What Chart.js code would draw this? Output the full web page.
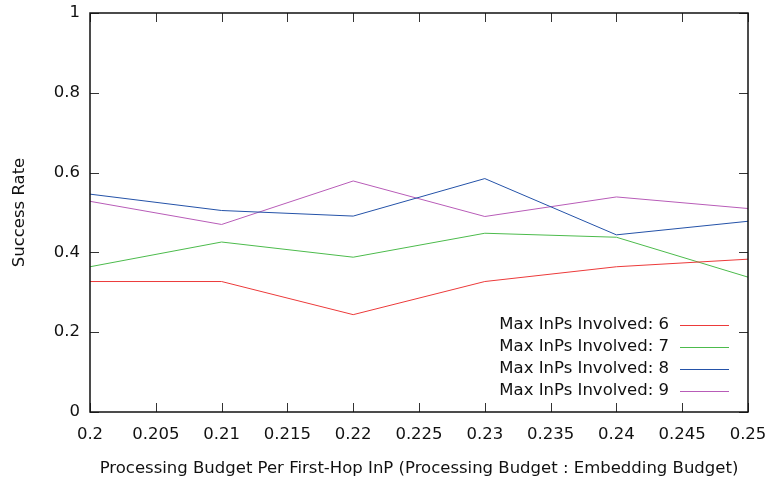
<!DOCTYPE html>
<html>
<head>
<meta charset="utf-8">
<script src="https://cdn.jsdelivr.net/npm/chart.js@4"></script>
<style>
	body { margin: 0; background: #fff; }
	#chart { display: block; }
</style>
</head>
<body>
<canvas id="chart" width="770" height="484"></canvas>
<script>
const budgets = [0.2, 0.21, 0.22, 0.23, 0.24, 0.25];

const inps6 = [0.327, 0.327, 0.244, 0.327, 0.364, 0.383];
const inps7 = [0.364, 0.426, 0.388, 0.448, 0.438, 0.338];
const inps8 = [0.546, 0.505, 0.491, 0.585, 0.444, 0.478];
const inps9 = [0.528, 0.470, 0.579, 0.490, 0.539, 0.510];

const seriesLabels = [
	"Max InPs Involved: 6",
	"Max InPs Involved: 7",
	"Max InPs Involved: 8",
	"Max InPs Involved: 9",
];
const seriesColors = ["#ec3a3a", "#4cbb4c", "#2452a8", "#b85cb8"];

const xTickLabels = ["0.2", "0.205", "0.21", "0.215", "0.22", "0.225", "0.23", "0.235", "0.24", "0.245", "0.25"];
const yTickLabels = ["0", "0.2", "0.4", "0.6", "0.8", "1"];

const fontFamily = "'DejaVu Sans', Verdana, sans-serif";
const fontSize = 16.5;

function toPoints(values) {
	return values.map(function (v, i) {
		return { x: budgets[i], y: v };
	});
}

const allSeries = [inps6, inps7, inps8, inps9];

// gnuplot-like frame with inward ticks on every side
const framePlugin = {
	id: "frame",
	afterDatasetsDraw(chart) {
		const ctx = chart.ctx;
		const a = chart.chartArea;
		const xs = chart.scales.x;
		const ys = chart.scales.y;
		const len = 9;
		ctx.save();
		ctx.strokeStyle = "#333";
		ctx.lineWidth = 1;
		ctx.beginPath();
		xs.ticks.forEach(function (t) {
			const px = Math.round(xs.getPixelForValue(t.value)) + 0.5;
			ctx.moveTo(px, a.bottom);
			ctx.lineTo(px, a.bottom - len);
			ctx.moveTo(px, a.top);
			ctx.lineTo(px, a.top + len);
		});
		ys.ticks.forEach(function (t) {
			const py = Math.round(ys.getPixelForValue(t.value)) + 0.5;
			ctx.moveTo(a.left, py);
			ctx.lineTo(a.left + len, py);
			ctx.moveTo(a.right, py);
			ctx.lineTo(a.right - len, py);
		});
		ctx.stroke();
		ctx.strokeStyle = "#111";
		ctx.lineWidth = 1.5;
		ctx.strokeRect(a.left, a.top, a.right - a.left, a.bottom - a.top);
		ctx.restore();
	},
};

// key drawn inside the bottom right corner
const keyPlugin = {
	id: "key",
	afterDraw(chart) {
		const ctx = chart.ctx;
		const textRight = 669;
		const lineStart = 680;
		const lineEnd = 729;
		const firstRow = 325;
		const rowGap = 22;
		ctx.save();
		ctx.font = fontSize + "px " + fontFamily;
		ctx.textAlign = "right";
		ctx.textBaseline = "middle";
		chart.data.datasets.forEach(function (ds, i) {
			const y = firstRow + i * rowGap;
			ctx.fillStyle = "#111";
			ctx.fillText(ds.label, textRight, y);
			ctx.strokeStyle = ds.borderColor;
			ctx.lineWidth = 1;
			ctx.beginPath();
			ctx.moveTo(lineStart, y + 0.5);
			ctx.lineTo(lineEnd, y + 0.5);
			ctx.stroke();
		});
		ctx.restore();
	},
};

const config = {
	type: "line",
	data: {
		datasets: allSeries.map(function (values, i) {
			return {
				label: seriesLabels[i],
				data: toPoints(values),
				borderColor: seriesColors[i],
				backgroundColor: seriesColors[i],
				borderWidth: 1,
				pointRadius: 0,
				tension: 0,
				fill: false,
			};
		}),
	},
	options: {
		responsive: false,
		animation: false,
		layout: {
			padding: { left: 0, right: 22, top: 13, bottom: 0 },
		},
		plugins: {
			legend: { display: false },
			tooltip: { enabled: false },
		},
		scales: {
			x: {
				type: "linear",
				min: 0.2,
				max: 0.25,
				grid: { display: false, drawTicks: false },
				border: { display: false },
				ticks: {
					stepSize: 0.005,
					padding: 13,
					color: "#111",
					maxRotation: 0,
					autoSkip: false,
					font: { family: fontFamily, size: fontSize },
					callback: function (value, index) {
						return xTickLabels[index];
					},
				},
				title: {
					display: true,
					text: "Processing Budget Per First-Hop InP (Processing Budget : Embedding Budget)",
					color: "#111",
					font: { family: fontFamily, size: fontSize },
					padding: { top: 4, bottom: 5 },
				},
				afterFit: function (scale) {
					scale.height = 72;
					scale.paddingLeft = 0;
					scale.paddingRight = 0;
				},
			},
			y: {
				type: "linear",
				min: 0,
				max: 1,
				grid: { display: false, drawTicks: false },
				border: { display: false },
				ticks: {
					stepSize: 0.2,
					padding: 10,
					color: "#111",
					font: { family: fontFamily, size: fontSize },
					callback: function (value, index) {
						return yTickLabels[index];
					},
				},
				title: {
					display: true,
					text: "Success Rate",
					color: "#111",
					font: { family: fontFamily, size: fontSize },
					padding: { top: 10, bottom: 4 },
				},
				afterFit: function (scale) {
					scale.width = 90;
					scale.paddingTop = 0;
					scale.paddingBottom = 0;
				},
			},
		},
	},
	plugins: [framePlugin, keyPlugin],
};

const ctx = document.getElementById("chart").getContext("2d");
const myChart = new Chart(ctx, config);
</script>
</body>
</html>
